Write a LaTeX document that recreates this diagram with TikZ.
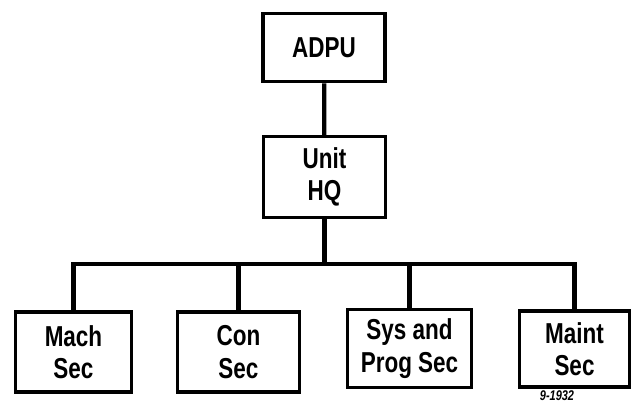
\documentclass[tikz,border=0pt]{standalone}
\usepackage{fontspec}
\newfontfamily\chartfont{Liberation Sans}[FakeStretch=0.78]
\usepackage{tikz}
\usetikzlibrary{positioning}
\tikzstyle{unitbox} = [rectangle, draw=black, line width=2.2pt, align=center, inner sep=0pt, font=\chartfont\bfseries\fontsize{20.5}{23}\selectfont]
\tikzstyle{edge} = [line width=3pt]

\begin{document}
\begin{tikzpicture}[x=0.025cm, y=-0.025cm]
\useasboundingbox (0,0) rectangle (632,403);

\node (adpu) [unitbox, minimum width=3.05cm, minimum height=1.72cm] at (324,47.5) {ADPU};
\node (hq) [unitbox, minimum width=3.07cm, minimum height=2.02cm] at (324.5,177) {Unit\\HQ};
\node (mach) [unitbox, minimum width=2.92cm, minimum height=2cm] at (73.5,352) {Mach\\Sec};
\node (con) [unitbox, minimum width=3.07cm, minimum height=2cm] at (238.5,352) {Con\\Sec};
\node (sys) [unitbox, minimum width=3.12cm, minimum height=1.97cm] at (409.5,348.5) {Sys and\\Prog Sec};
\node (maint) [unitbox, minimum width=2.77cm, minimum height=1.9cm] at (574.5,349) {Maint\\Sec};
\node (fig) [font=\chartfont\bfseries\itshape\fontsize{10}{10}\selectfont, inner sep=0pt] at (557,396) {9-1932};

\coordinate (bus) at (324.5,264);

\draw [edge] (adpu) -- (hq);
\draw [edge] (hq) -- (bus);
\draw [edge] (mach.north) |- (bus) -| (maint.north);
\draw [edge] (con.north) -- (con.north |- bus);
\draw [edge] (sys.north) -- (sys.north |- bus);

\end{tikzpicture}
\end{document}
